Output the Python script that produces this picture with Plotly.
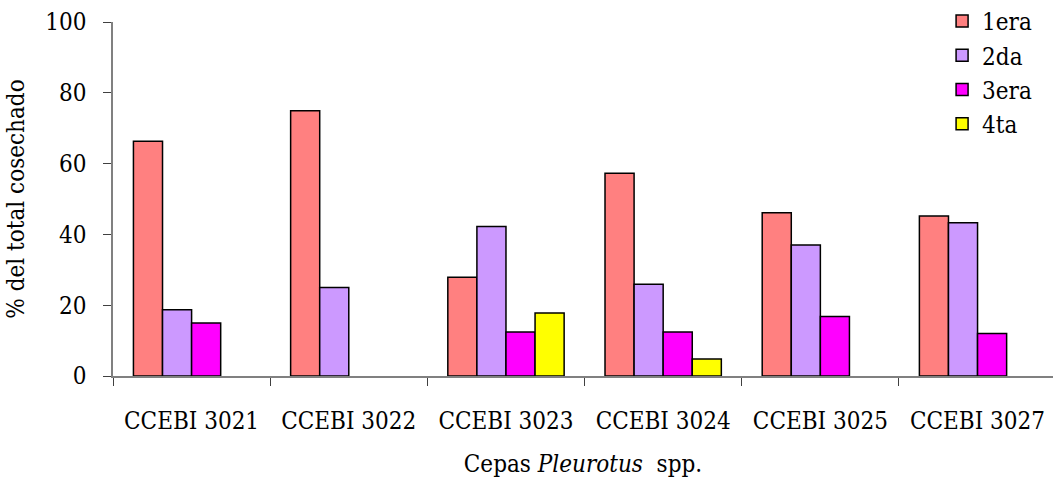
import plotly.graph_objects as go

# Share of total harvest per flush for each Pleurotus strain
cepas = ["CCEBI 3021", "CCEBI 3022", "CCEBI 3023", "CCEBI 3024", "CCEBI 3025", "CCEBI 3027"]
primera = [66.3, 74.9, 27.9, 57.3, 46.1, 45.2]
segunda = [18.7, 25.0, 42.2, 25.9, 37.0, 43.3]
tercera = [15.0, None, 12.4, 12.4, 16.8, 12.0]
cuarta = [None, None, 17.8, 4.8, None, None]

series = [
    ("1era", primera, "#FF8080"),
    ("2da", segunda, "#CC99FF"),
    ("3era", tercera, "#FF00FF"),
    ("4ta", cuarta, "#FFFF00"),
]

serif = "'DejaVu Serif Condensed', 'DejaVu Serif'"

fig = go.Figure()
for name, vals, color in series:
    fig.add_trace(go.Bar(
        name=name, x=cepas, y=vals,
        marker=dict(color=color, line=dict(color="black", width=1.5)),
    ))

fig.update_layout(
    width=1053, height=486,
    margin=dict(l=113, r=0, t=22, b=110, autoexpand=False),
    paper_bgcolor="white", plot_bgcolor="white",
    barmode="group", bargap=0.26, bargroupgap=0,
    font=dict(family=serif, size=24, color="black"),
    showlegend=True,
    legend=dict(x=0.882, y=1.065, xanchor="left", yanchor="top",
                font=dict(family=serif, size=24), tracegroupgap=0,
                itemwidth=30, bgcolor="rgba(0,0,0,0)"),
    xaxis=dict(
        type="category", range=[-0.5, 5.48],
        showline=True, linecolor="#808080", linewidth=1.5,
        ticks="outside", tickson="boundaries", ticklen=8, tickcolor="#404040",
        tickangle=0,
        tickfont=dict(family=serif, size=24), ticklabelstandoff=22,
        title=dict(text="Cepas <i>Pleurotus</i>  spp.", font=dict(family=serif, size=24), standoff=22),
        showgrid=False, zeroline=False,
    ),
    yaxis=dict(
        range=[0, 100], tickvals=[0, 20, 40, 60, 80, 100],
        showline=True, linecolor="#808080", linewidth=1.5,
        ticks="outside", ticklen=8, tickcolor="#404040",
        tickfont=dict(family=serif, size=24), ticklabelstandoff=12,
        title=dict(text="% del total cosechado", font=dict(family=serif, size=24), standoff=14),
        showgrid=False, zeroline=False,
    ),
)

fig.write_html("out.html")
